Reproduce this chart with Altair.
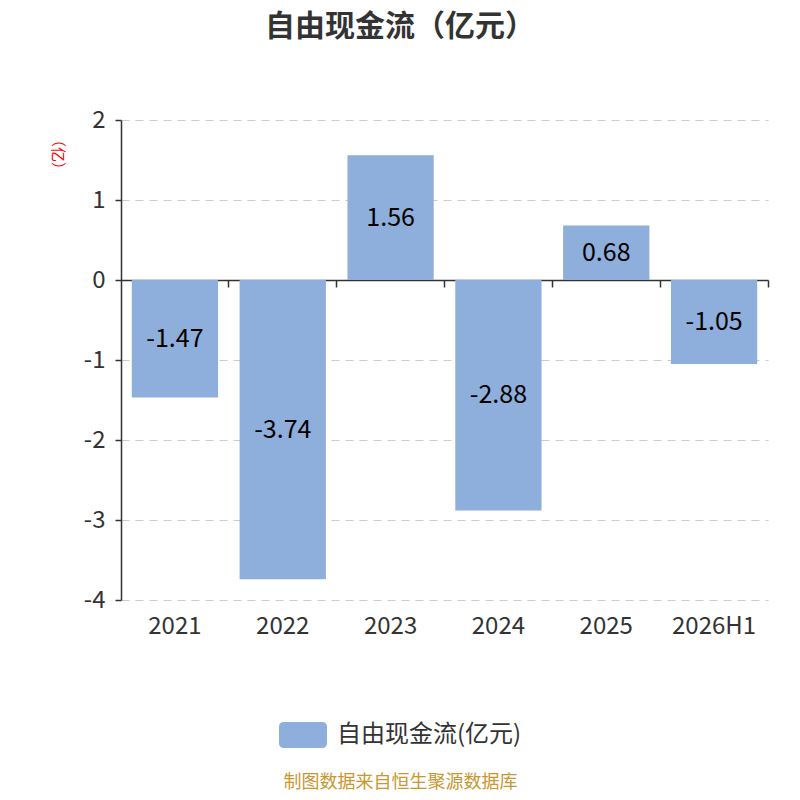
import altair as alt
import pandas as pd

categories = ["2021", "2022", "2023", "2024", "2025", "2026H1"]
values = [-1.47, -3.74, 1.56, -2.88, 0.68, -1.05]
series_name = "自由现金流(亿元)"
y_ticks = [-4, -3, -2, -1, 0, 1, 2]

df = pd.DataFrame({"year": categories, "value": values, "series": series_name})
df["label"] = df["value"].map(lambda v: f"{v:.2f}")
df["mid"] = df["value"] / 2

FONT = "Noto Sans CJK SC"
BAR = "#8eaedb"
AX = "#333333"

xscale = alt.Scale(paddingInner=0.2, paddingOuter=0.1)
yscale = alt.Scale(domain=[-4, 2], nice=False)

y_axis = alt.Axis(
    values=y_ticks, labelExpr="'' + datum.value",
    title="（亿）", titleColor="red", titleFontSize=15, titleFontWeight="normal",
    titleAngle=90, titleX=-63.5, titleY=34, titleAlign="center", titleBaseline="middle",
    grid=True, gridDash=[8, 6], gridColor="#cccccc", gridWidth=1.2,
    domainColor=AX, domainWidth=1.5, tickColor=AX, tickWidth=1.5, tickSize=6,
    labelFontSize=24, labelColor=AX, labelPadding=10,
)

x_main = alt.X(
    "year:N", sort=categories, scale=xscale,
    axis=alt.Axis(
        orient="bottom",
        title="制图数据来自恒生聚源数据库", titleColor="#c8972f", titleFontSize=18,
        titleFontWeight="normal", titleX=279, titleY=182, titleAlign="center",
        titleBaseline="middle",
        labelAngle=0, domain=False, ticks=False, tickSize=0, grid=False,
        labelFontSize=24, labelColor=AX, labelPadding=14,
    ),
)

legend_path = ("M-0.79,-0.54 L0.79,-0.54 Q1,-0.54 1,-0.33 L1,0.33 Q1,0.54 0.79,0.54 "
               "L-0.79,0.54 Q-1,0.54 -1,0.33 L-1,-0.33 Q-1,-0.54 -0.79,-0.54 Z")

bars = alt.Chart(df).mark_bar(color=BAR).encode(
    x=x_main,
    y=alt.Y("value:Q", scale=yscale, axis=y_axis),
    color=alt.Color(
        "series:N",
        scale=alt.Scale(range=[BAR]),
        legend=alt.Legend(
            title=None, orient="none", legendX=158, legendY=591,
            symbolType=legend_path, symbolSize=2304, symbolStrokeWidth=0,
            symbolOpacity=1, labelFontSize=24, labelColor=AX, labelOffset=10,
            labelLimit=500, padding=0,
        ),
    ),
)

texts = alt.Chart(df).mark_text(fontSize=25, color="#000000", baseline="middle").encode(
    x=alt.X("year:N", sort=categories, scale=xscale, axis=None),
    y=alt.Y("mid:Q", scale=yscale, axis=y_axis),
    text="label:N",
)

zero_axis = alt.Chart(df).mark_point(opacity=0).encode(
    x=alt.X(
        "year:N", sort=categories, scale=xscale,
        axis=alt.Axis(
            orient="bottom", title=None, labels=False, offset=-320, bandPosition=1.125,
            domain=True, domainColor=AX, domainWidth=1.5,
            ticks=True, tickColor=AX, tickWidth=1.5, tickSize=7, grid=False,
        ),
    ),
    y=alt.Y("value:Q", scale=yscale, axis=y_axis),
)

chart = (
    alt.layer(bars, texts, zero_axis)
    .resolve_axis(x="independent")
    .properties(
        width=647, height=480,
        padding={"left": 113, "top": 112, "right": 24, "bottom": 192},
        autosize=alt.AutoSizeParams(type="none"),
        title=alt.TitleParams(
            text="自由现金流（亿元）", fontSize=30, fontWeight="bold", color=AX,
            anchor="middle", dx=-44.5, offset=66, font=FONT,
        ),
    )
    .configure(font=FONT)
    .configure_view(stroke=None)
)

chart.save("out.html", embed_options={"renderer": "svg", "actions": False})
